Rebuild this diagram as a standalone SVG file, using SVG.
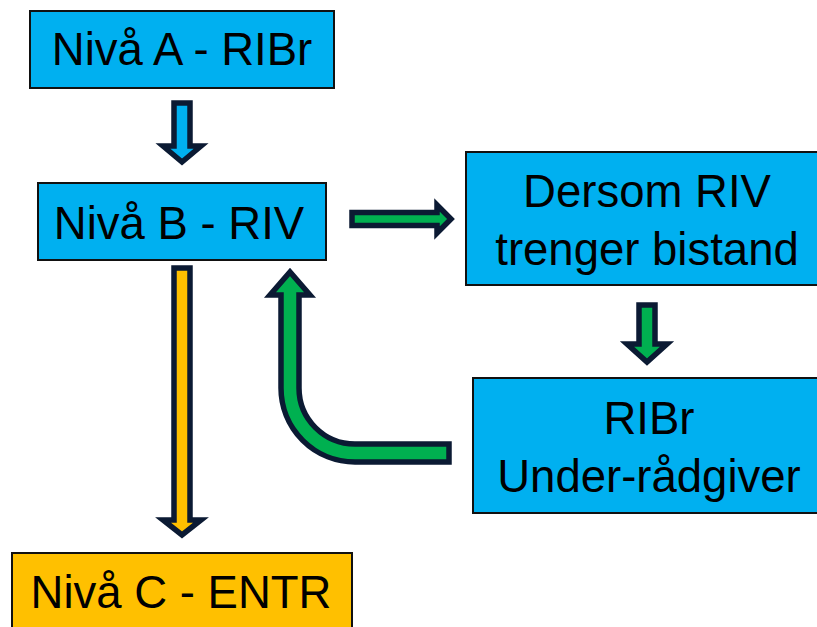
<svg xmlns="http://www.w3.org/2000/svg" width="817" height="627" viewBox="0 0 817 627">
<style>
.box{stroke:#111;stroke-width:2}
.blue{fill:#00b0f0}
.yellow{fill:#ffc000}
.t{font-family:"Liberation Sans",Arial,sans-serif;font-size:45.5px;fill:#000;text-anchor:middle}
.arr{stroke:#0b1a33;stroke-width:5.5;stroke-linejoin:miter}
</style>
<rect width="817" height="627" fill="#fff"/>
<g id="connectors">
<polygon class="arr" fill="#00b0f0" points="174,103 190,103 190,146 201,146 182,162 163,146 174,146"/>
<polygon class="arr" fill="#00b050" points="352,212.5 437,212.5 437,205 451,219 437,233 437,225.5 352,225.5"/>
<polygon class="arr" fill="#00b050" points="639,305 655,305 655,344 667,344 647,362 627,344 639,344"/>
<polygon class="arr" fill="#ffc000" points="174,268 190,268 190,520 201,520 182,535 163,520 174,520"/>
<path class="arr" fill="#00b050" d="M449,444 H355 A56,56 0 0 1 299,388 V295 H310 L290,272 L270,295 H281 V388 A74,74 0 0 0 355,462 H449 Z"/>
</g>
<g id="nivaA"><rect class="box blue" x="30" y="11" width="304" height="77"/><text class="t" x="182" y="65">Nivå A - RIBr</text></g>
<g id="nivaB"><rect class="box blue" x="38" y="183" width="288" height="77"/><text class="t" x="179" y="239">Nivå B - RIV</text></g>
<g id="dersom"><rect class="box blue" x="466" y="152" width="360" height="133"/><text class="t" x="647" y="207">Dersom RIV</text><text class="t" x="647" y="265">trenger bistand</text></g>
<g id="ribr"><rect class="box blue" x="473" y="378" width="360" height="135"/><text class="t" x="649" y="434">RIBr</text><text class="t" x="649" y="492">Under-rådgiver</text></g>
<g id="nivaC"><rect class="box yellow" x="12" y="553" width="340" height="90"/><text class="t" x="181" y="608">Nivå C - ENTR</text></g>
</svg>
